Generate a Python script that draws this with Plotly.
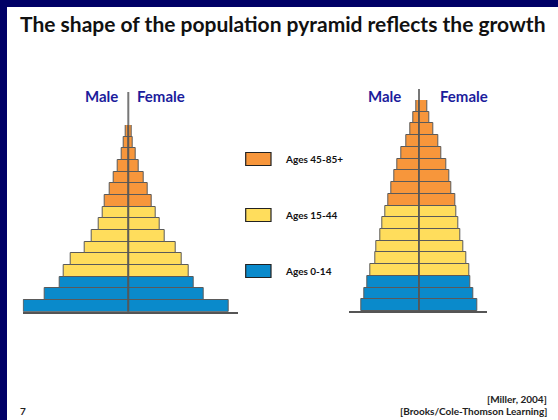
import plotly.graph_objects as go

# ---------------- data ----------------
# Left pyramid (rapid growth), bars from youngest (bottom) to oldest (top)
left_groups = ["0-14"] * 3 + ["15-44"] * 6 + ["45-85+"] * 7
left_male = [104.3, 83.3, 68.3, 64.3, 57.3, 43.3, 36.3, 30, 26, 23.7, 19, 15, 11, 6.7, 5, 2.3]
left_female = [100, 75, 65, 60.7, 53.3, 47.3, 36.7, 31.7, 27.3, 23, 19, 15, 10.7, 7.7, 4.3, 3.7]

# Right pyramid (slow growth)
right_groups = ["0-14"] * 3 + ["15-44"] * 6 + ["45-85+"] * 9
right_male = [58, 54.7, 51.3, 49, 44, 42.3, 39, 36.7, 33.3, 30.7, 27.3, 24.7, 21.7, 18, 13, 9, 5.7, 2.7]
right_female = [58.7, 54.3, 51, 50.3, 47.7, 44.3, 41.7, 39.7, 37.7, 36, 32, 30, 27, 22, 19.3, 14.3, 10.3, 8.3]

legend_labels = ["Ages 45-85+", "Ages 15-44", "Ages 0-14"]
legend_groups = ["45-85+", "15-44", "0-14"]

group_colors = {"0-14": "#0A8ACB", "15-44": "#FFDD5C", "45-85+": "#F7963B"}
title_text = "The shape of the population pyramid reflects the growth"

# ---------------- figure ----------------
W, H = 558, 420
def px(x):
    return x / W
def py(y):
    return 1 - y / H

FONT = "Lato"
OUTLINE = "#5a5a5a"

fig = go.Figure()

def add_pyramid(male, female, groups, xa, ya):
    n = len(male)
    cols = [group_colors[g] for g in groups]
    idx = list(range(n))
    fig.add_trace(go.Bar(
        y=idx, x=[-m for m in male], orientation="h",
        marker=dict(color=cols, line=dict(color=OUTLINE, width=1)),
        xaxis=xa, yaxis=ya, showlegend=False, hoverinfo="skip"))
    fig.add_trace(go.Bar(
        y=idx, x=female, orientation="h",
        marker=dict(color=cols, line=dict(color=OUTLINE, width=1)),
        xaxis=xa, yaxis=ya, showlegend=False, hoverinfo="skip"))

add_pyramid(left_male, left_female, left_groups, "x", "y")
add_pyramid(right_male, right_female, right_groups, "x2", "y2")

# axis geometry (pixels)
L_cx, L_x0, L_x1, L_base, L_top = 128.3, 22.7, 238.0, 311.7, 125.0
R_cx, R_x0, R_x1, R_base, R_top = 419.0, 349.3, 486.7, 311.0, 100.0

axis_common = dict(showgrid=False, zeroline=False, showticklabels=False, ticks="")
fig.update_layout(
    width=W, height=H, autosize=False,
    margin=dict(l=0, r=0, t=0, b=0),
    paper_bgcolor="white", plot_bgcolor="rgba(0,0,0,0)",
    barmode="relative", bargap=0,
    xaxis=dict(domain=[px(L_x0), px(L_x1)], range=[L_x0 - L_cx, L_x1 - L_cx], anchor="y",
               showline=True, linecolor="#555555", linewidth=2, **axis_common),
    yaxis=dict(domain=[py(L_base), py(L_top)], range=[-0.5, len(left_male) - 0.5], anchor="x",
               showline=False, **axis_common),
    xaxis2=dict(domain=[px(R_x0), px(R_x1)], range=[R_x0 - R_cx, R_x1 - R_cx], anchor="y2",
                showline=True, linecolor="#555555", linewidth=2, **axis_common),
    yaxis2=dict(domain=[py(R_base), py(R_top)], range=[-0.5, len(right_male) - 0.5], anchor="x2",
                showline=False, **axis_common),
    showlegend=False,
)

shapes = []
# navy frame
shapes.append(dict(type="rect", xref="paper", yref="paper", x0=0, x1=px(7), y0=0, y1=1,
                   fillcolor="#000066", line=dict(width=0), layer="above"))
shapes.append(dict(type="rect", xref="paper", yref="paper", x0=0, x1=1, y0=py(7), y1=1,
                   fillcolor="#000066", line=dict(width=0), layer="above"))
# center lines
shapes.append(dict(type="line", xref="x", yref="paper", x0=0, x1=0, y0=py(L_base), y1=py(92),
                   line=dict(color="#555555", width=2), layer="above", opacity=0.8))
shapes.append(dict(type="line", xref="x2", yref="paper", x0=0, x1=0, y0=py(R_base), y1=py(89),
                   line=dict(color="#555555", width=2), layer="above", opacity=0.8))

annotations = []
annotations.append(dict(text="<b>" + title_text + "</b>", xref="paper", yref="paper",
                        x=px(18), y=py(23), xanchor="left", yanchor="middle", showarrow=False,
                        font=dict(family=FONT, size=21, color="#111111")))
# Male / Female labels
for x, t in [(101.7, "Male"), (161, "Female"), (384, "Male"), (464, "Female")]:
    annotations.append(dict(text="<b>" + t + "</b>", xref="paper", yref="paper",
                            x=px(x), y=py(96), xanchor="center", yanchor="middle", showarrow=False,
                            font=dict(family=FONT, size=15, color="#1C1C9C")))

# legend
for i, (lab, g) in enumerate(zip(legend_labels, legend_groups)):
    yc = 159 + i * 56
    shapes.append(dict(type="rect", xref="paper", yref="paper",
                       x0=px(245.7), x1=px(271), y0=py(yc + 6.5), y1=py(yc - 6.5),
                       fillcolor=group_colors[g], line=dict(color="#222222", width=1.2)))
    annotations.append(dict(text="<b>" + lab + "</b>", xref="paper", yref="paper",
                            x=px(283), y=py(yc), xanchor="left", yanchor="middle", showarrow=False,
                            font=dict(family=FONT, size=10, color="#111111")))

# footer
annotations.append(dict(text="<b>[Miller, 2004]</b>", xref="paper", yref="paper",
                        x=px(549), y=py(399), xanchor="right", yanchor="middle", showarrow=False,
                        font=dict(family=FONT, size=10, color="#222222")))
annotations.append(dict(text="<b>[Brooks/Cole-Thomson Learning]</b>", xref="paper", yref="paper",
                        x=px(549), y=py(411), xanchor="right", yanchor="middle", showarrow=False,
                        font=dict(family=FONT, size=10, color="#222222")))
annotations.append(dict(text="<b>7</b>", xref="paper", yref="paper",
                        x=px(18), y=py(411), xanchor="left", yanchor="middle", showarrow=False,
                        font=dict(family=FONT, size=10, color="#222222")))

fig.update_layout(shapes=shapes, annotations=annotations)
fig.write_html("out.html", config={"displayModeBar": False},
               post_script="document.body.style.margin='0';document.body.style.padding='0';")
